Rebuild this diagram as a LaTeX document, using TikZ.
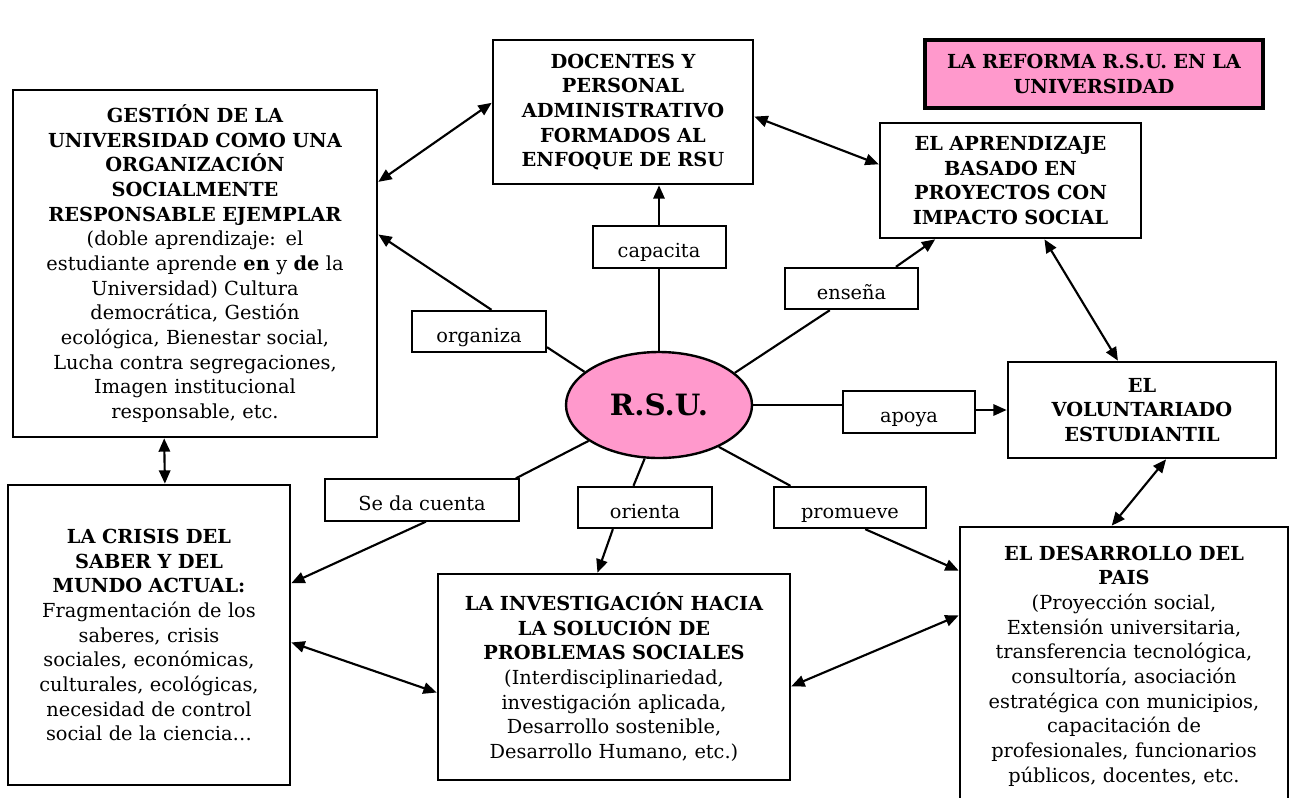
\documentclass[tikz,border=0pt]{standalone}
\usepackage{fontspec}
\setmainfont{DejaVu Serif}
\usetikzlibrary{arrows.meta,shapes.geometric}
\definecolor{rsupink}{HTML}{FF99CC}

\begin{document}
\begin{tikzpicture}[x=0.75pt,y=-0.75pt,
  box/.style={draw,line width=2pt,align=center,inner sep=0pt,font=\fontsize{14.5}{18.5}\selectfont},
  tag/.style={draw,fill=white,line width=1.5pt,inner xsep=0pt,inner ysep=4pt,minimum height=31pt,
    text height=19pt,text depth=3pt,font=\fontsize{14.5}{18.5}\selectfont},
  ln/.style={line width=1.6pt},
  arr/.style={ln,-{Triangle[length=10pt,width=8.5pt]}},
  dbl/.style={ln,{Triangle[length=10pt,width=8.5pt]}-{Triangle[length=10pt,width=8.5pt]}}]
  \useasboundingbox (0,0) rectangle (1303,797);

  % boxes
  \node[box,fill=rsupink,line width=2.6pt,minimum width=253.5pt,minimum height=51pt,text width=249pt] (titulo) at (1094,74)
    {\textbf{LA REFORMA R.S.U. EN LA\\UNIVERSIDAD}};
  \node[box,minimum width=273pt,minimum height=260.25pt,text width=269pt] (gestion) at (195,263.5)
    {\textbf{GESTIÓN DE LA\\UNIVERSIDAD COMO UNA\\ORGANIZACIÓN\\SOCIALMENTE\\RESPONSABLE EJEMPLAR}\\
     (doble aprendizaje: el\\estudiante aprende \textbf{en} y \textbf{de} la\\Universidad) Cultura\\
     democrática, Gestión\\ecológica, Bienestar social,\\Lucha contra segregaciones,\\
     Imagen institucional\\responsable, etc.};
  \node[box,minimum width=195pt,minimum height=108pt,text width=191pt] (docentes) at (623,112)
    {\textbf{DOCENTES Y\\PERSONAL\\ADMINISTRATIVO\\FORMADOS AL\\ENFOQUE DE RSU}};
  \node[box,minimum width=195.75pt,minimum height=86.25pt,text width=191pt] (aprend) at (1010.5,180.5)
    {\textbf{EL APRENDIZAJE\\BASADO EN\\PROYECTOS CON\\IMPACTO SOCIAL}};
  \node[box,minimum width=201pt,minimum height=72pt,text width=197pt] (volunt) at (1142,410)
    {\textbf{EL\\VOLUNTARIADO\\ESTUDIANTIL}};
  \node[box,minimum width=211.5pt,minimum height=225pt,text width=207pt] (crisis) at (149,635)
    {\textbf{LA CRISIS DEL\\SABER Y DEL\\MUNDO ACTUAL:}\\Fragmentación de los\\saberes, crisis\\
     sociales, económicas,\\culturales, ecológicas,\\necesidad de control\\social de la ciencia…};
  \node[box,minimum width=264pt,minimum height=154.5pt,text width=260pt] (invest) at (614,677)
    {\textbf{LA INVESTIGACIÓN HACIA\\LA SOLUCIÓN DE\\PROBLEMAS SOCIALES}\\(Interdisciplinariedad,\\
     investigación aplicada,\\Desarrollo sostenible,\\Desarrollo Humano, etc.)};
  \node[box,minimum width=246pt,minimum height=208.5pt,text width=242pt] (desarr) at (1124,666)
    {\textbf{EL DESARROLLO DEL\\PAIS}\\(Proyección social,\\Extensión universitaria,\\
     transferencia tecnológica,\\consultoría, asociación\\estratégica con municipios,\\
     capacitación de\\profesionales, funcionarios\\públicos, docentes, etc.};
  \node[ellipse,draw,fill=rsupink,line width=1.8pt,inner sep=0pt,minimum width=139.5pt,minimum height=79.5pt,
    font=\fontsize{22}{26}\selectfont] (rsu) at (659,405) {\textbf{R.S.U.}};

  % verbs
  \node[tag,minimum width=99.75pt] (capacita) at (659,247) {capacita};
  \node[tag,minimum width=100.5pt] (organiza) at (479,331.5) {organiza};
  \node[tag,minimum width=99.75pt] (ensena) at (851.5,288.5) {enseña};
  \node[tag,minimum width=99pt] (apoya) at (909,412) {apoya};
  \node[tag,minimum width=145.5pt] (seda) at (422,500) {Se da cuenta};
  \node[tag,minimum width=100.5pt] (orienta) at (645,507.5) {orienta};
  \node[tag,minimum width=114pt] (promueve) at (850,507.5) {promueve};

  % from R.S.U.
  \draw[ln] (rsu.north) -- (capacita.south);
  \draw[arr] (capacita.north) -- (capacita.north |- docentes.south);
  \draw[ln] (rsu.156) -- (organiza.-13.8);
  \draw[arr] (organiza.60) -- (gestion.9.5);
  \draw[ln] (rsu.23.5) -- (ensena.-135);
  \draw[arr] (ensena.26.3) -- (aprend.-142.7);
  \draw[ln] (rsu.east) -- (rsu.east -| apoya.west);
  \draw[arr] (apoya.east |- volunt.west) -- (volunt.west);
  \draw[ln] (rsu.-153.4) -- (seda.13.5);
  \draw[arr] (seda.-80) -- (crisis.20.6);
  \draw[ln] (rsu.-105.8) -- (orienta.118);
  \draw[arr] (orienta.-146.5) -- (invest.99.4);
  \draw[ln] (rsu.-35.6) -- (promueve.160.6);
  \draw[arr] (promueve.-55.7) -- (desarr.150.2);

  % between boxes
  \draw[dbl] (gestion.24) -- (docentes.176);
  \draw[dbl] (docentes.-2.6) -- (aprend.173);
  \draw[dbl] (aprend.-60.5) -- (volunt.116.6);
  \draw[dbl] (volunt.-64.4) -- (desarr.95.8);
  \draw[dbl] (gestion.-100.4) -- (crisis.84.7);
  \draw[dbl] (crisis.-3.2) -- (invest.-175.8);
  \draw[dbl] (invest.-3.6) -- (desarr.163.7);
\end{tikzpicture}
\end{document}
